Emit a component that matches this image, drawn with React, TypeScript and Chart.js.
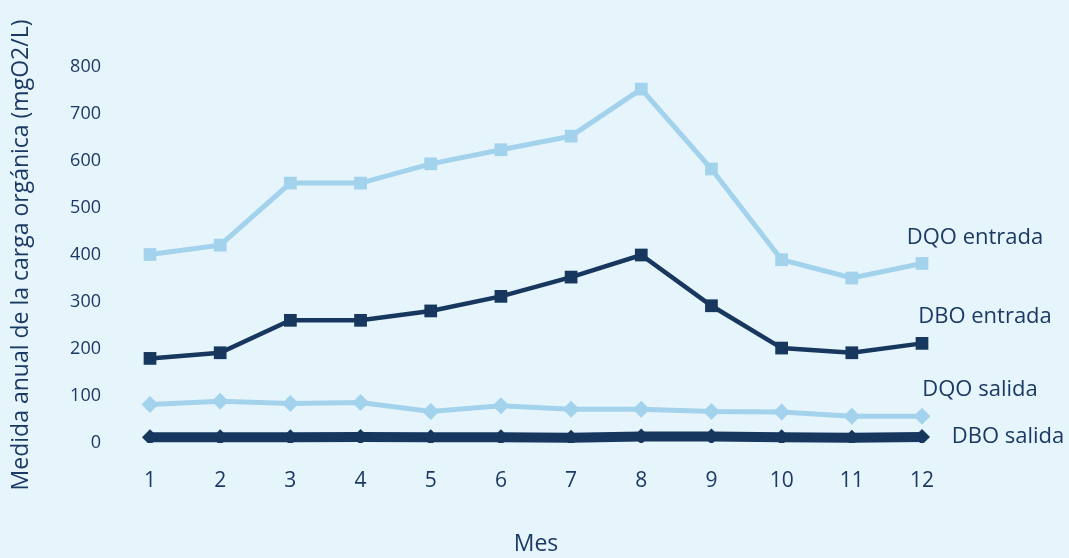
import React, { useEffect, useRef } from "react";
import { Chart, registerables } from "chart.js";

Chart.register(...registerables);

const meses = ["1", "2", "3", "4", "5", "6", "7", "8", "9", "10", "11", "12"];
const dqoEntrada = [401, 421, 553, 553, 594, 624, 653, 753, 583, 390, 351, 382];
const dboEntrada = [180, 192, 261, 261, 281, 312, 353, 400, 292, 202, 192, 212];
const dqoSalida = [82, 89, 84, 86, 67, 79, 72, 72, 67, 66, 57, 57];
const dboSalida = [12, 12, 12, 13, 12, 12, 11, 14, 14, 12, 11, 13];
const seriesNames = ["DQO entrada", "DBO entrada", "DQO salida", "DBO salida"];

const LIGHT = "#A3D2EC";
const DARK = "#17375E";
const TEXT = "#1B3A63";
const BG = "#E6F4FC";
const FONT = "'Open Sans', sans-serif";

const endLabels = {
  id: "endLabels",
  afterDatasetsDraw(chart: any, _args: any, opts: any) {
    const { ctx } = chart;
    ctx.save();
    ctx.font = `22px ${FONT}`;
    ctx.fillStyle = TEXT;
    ctx.textAlign = "center";
    ctx.textBaseline = "middle";
    chart.data.datasets.forEach((ds: any, i: number) => {
      const meta = chart.getDatasetMeta(i);
      const last = meta.data[meta.data.length - 1];
      const off = opts.offsets[i];
      ctx.fillText(ds.label, last.x + off[0], last.y + off[1]);
    });
    ctx.restore();
  },
};

export default function App() {
  const ref = useRef<HTMLCanvasElement>(null);
  useEffect(() => {
    const chart = new Chart(ref.current!, {
      type: "line",
      data: {
        labels: meses,
        datasets: [
          {
            label: seriesNames[0],
            data: dqoEntrada,
            borderColor: LIGHT,
            backgroundColor: LIGHT,
            borderWidth: 5,
            pointStyle: "rect",
            pointRadius: 9,
            pointBorderWidth: 0,
          },
          {
            label: seriesNames[1],
            data: dboEntrada,
            borderColor: DARK,
            backgroundColor: DARK,
            borderWidth: 4.5,
            pointStyle: "rect",
            pointRadius: 9,
            pointBorderWidth: 0,
          },
          {
            label: seriesNames[2],
            data: dqoSalida,
            borderColor: LIGHT,
            backgroundColor: LIGHT,
            borderWidth: 5,
            pointStyle: "rectRot",
            pointRadius: 8.5,
            pointBorderWidth: 0,
          },
          {
            label: seriesNames[3],
            data: dboSalida,
            borderColor: DARK,
            backgroundColor: DARK,
            borderWidth: 10,
            pointStyle: "rectRot",
            pointRadius: 8,
            pointBorderWidth: 0,
          },
        ],
      },
      options: {
        animation: false,
        responsive: false,
        maintainAspectRatio: false,
        layout: { padding: { left: 0, right: 147, top: 67, bottom: 0 } },
        plugins: {
          legend: { display: false },
          tooltip: { enabled: false },
          endLabels: {
            offsets: [
              [53, -26],
              [63, -27],
              [58, -26],
              [86, 0],
            ],
          },
        } as any,
        scales: {
          x: {
            type: "category",
            offset: false,
            grid: { display: false, drawTicks: false },
            border: { display: false },
            ticks: { color: TEXT, font: { family: FONT, size: 21 }, padding: 25, maxRotation: 0 },
            title: {
              display: true,
              text: "Mes",
              color: TEXT,
              font: { family: FONT, size: 23 },
              padding: { top: 0, bottom: 0 },
            },
            afterFit: (axis: any) => {
              axis.height = 115;
            },
          },
          y: {
            min: 0,
            max: 800,
            grid: { display: false, drawTicks: false },
            border: { display: false },
            ticks: { stepSize: 100, color: TEXT, font: { family: FONT, size: 18 }, padding: 49 },
            title: {
              display: true,
              text: "Medida anual de la carga orgánica (mgO2/L)",
              color: TEXT,
              font: { family: FONT, size: 23 },
              padding: { top: 8, bottom: 0 },
            },
            afterFit: (axis: any) => {
              axis.width = 150;
            },
          },
        },
      },
      plugins: [endLabels],
    });
    return () => chart.destroy();
  }, []);
  return (
    <div style={{ position: "fixed", left: 0, top: 0, width: 1069, height: 558, background: BG }}>
      <canvas ref={ref} width={1069} height={558} style={{ display: "block" }} />
    </div>
  );
}
